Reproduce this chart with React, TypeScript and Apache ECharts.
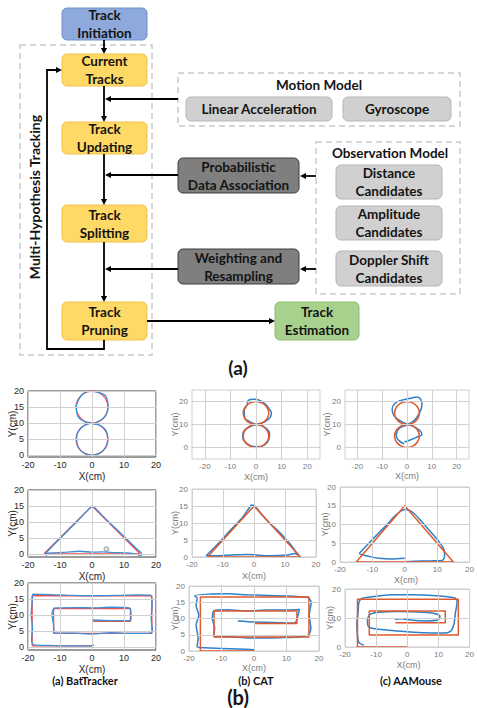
import React, { useEffect, useRef } from "react";
import * as echarts from "echarts";

// ---------- tick labels ----------
const xTicks = [-20, -10, 0, 10, 20];
const yTicks5 = [0, 5, 10, 15, 20];
const yTicks10 = [0, 10, 20];

// ---------- figure-eight traces ----------
const batFig8Red = [[0,10],[2.5,10.7],[4.3,12.5],[5,15],[4.3,17.5],[2.5,19.3],[0,20],[-2.5,19.3],[-4.3,17.5],[-5,15],[-4.3,12.5],[-2.5,10.7],[0,10],[2.5,9.3],[4.3,7.5],[5,5],[4.3,2.5],[2.5,0.7],[0,0],[-2.5,0.7],[-4.3,2.5],[-5,5],[-4.3,7.5],[-2.5,9.3],[0,10]];
const batFig8Blue = [[0,9.8],[2.6,10.9],[4.5,12.8],[5,15.2],[4.6,17.8],[2.3,19.5],[-0.3,19.9],[-2.8,19.1],[-4.2,17.2],[-4.9,14.8],[-4.5,12.3],[-2.3,10.5],[0,9.9],[2.7,9.2],[4.6,7.2],[4.9,4.8],[4.1,2.3],[2.2,0.6],[-0.2,0.1],[-2.7,0.8],[-4.4,2.8],[-4.8,5.2],[-4,7.8],[-2.2,9.4],[0,10]];
const catFig8Red = [[0,10],[2.5,10.7],[4.3,12.5],[5,15],[4.3,17.5],[2.5,19.3],[0,20],[-2.5,19.3],[-4.3,17.5],[-5,15],[-4.3,12.5],[-2.5,10.7],[0,10],[2.5,9.3],[4.3,7.5],[5,5],[4.3,2.5],[2.5,0.7],[0,0],[-2.5,0.7],[-4.3,2.5],[-5,5],[-4.3,7.5],[-2.5,9.3],[0,10]];
const catFig8Blue = [[0,10],[-2.5,11.3],[-4.5,13.2],[-4.6,16],[-3.5,18.5],[-3,20.5],[-1,21],[1.5,20.5],[3.5,19],[5,17],[6,15],[5.5,13],[3,11],[0,10],[-3,8.6],[-5,6.5],[-5.2,4.3],[-3.8,2],[-1.5,0.6],[1,0.3],[3.5,1.3],[5,3.5],[5.3,6],[3.8,8.5],[1.5,9.8]];
const aamFig8Red = [[0,10],[2.5,10.7],[4.3,12.5],[5,15],[4.3,17.5],[2.5,19.3],[0,20],[-2.5,19.3],[-4.3,17.5],[-5,15],[-4.3,12.5],[-2.5,10.7],[0,10],[2.5,9.3],[4.3,7.5],[5,5],[4.3,2.5],[2.5,0.7],[0,0],[-2.5,0.7],[-4.3,2.5],[-5,5],[-4.3,7.5],[-2.5,9.3],[0,10]];
const aamFig8Blue = [[-1,2.4],[2,3.6],[4.5,4.8],[6,5.6],[5.5,7],[3.5,8.6],[1.5,9.6],[0,10.2],[-2.5,11.5],[-5,13.5],[-6,16.5],[-5,19],[-2,20.6],[1.5,21.4],[4,22],[5.5,21],[6,18.5],[5.2,15.5],[3.8,12.8],[2,11],[0,9.8],[-2.5,8.8],[-4,7],[-4.3,5],[-3.2,3],[-1.2,1.6]];

// ---------- triangle traces ----------
const batTriRed = [[-15,0],[0,15],[15,0],[-15,0]];
const batTriBlue = [[-14.5,0.2],[-10,4.8],[-5,9.8],[-1,14],[0.2,14.8],[3,12.2],[7,8.3],[11,4.5],[14,1.5],[15.5,0],[15.3,-0.5],[12,0.2],[7,0.4],[3,0.6],[0,0.5],[-4,0.8],[-8,0.5],[-12,0.3],[-14.5,0.1],[-14.2,-0.6]];
const batTriMarker = [[4.5,1.5]];
const catTriRed = [[-15,0],[0,15],[15,0],[-15,0]];
const catTriBlue = [[-15.5,0.3],[-12,3.5],[-8,7.5],[-4,11.3],[-1.5,14.5],[-0.8,15.3],[0.5,14.8],[2.5,12.5],[5,10],[8,7.5],[10,5.5],[12,3.5],[13.5,1.5],[14.5,0.5],[13,1],[11,0.6],[5,0.4],[-2,0.7],[-7,0.6],[-12,0.4],[-15.2,0.4]];
const aamTriRed = [[-15,0],[0,15],[15,0],[-15,0]];
const aamTriBlue = [[0,1],[-4,0.8],[-8,1],[-11,1.5],[-14,2.3],[-13.5,2.8],[-10,6],[-6,9.5],[-3,12.3],[-1,13.7],[0.5,14],[2.5,13.2],[5,11],[8,8],[10.5,5.5],[12,3.5],[12.3,1.5],[11.5,0.4],[8,0.3],[3,0.2],[0,0.1]];

// ---------- rectangular spiral traces ----------
const batRectRed = [[0,0.3],[-18.7,0.3],[-18.7,16],[18.7,16],[18.7,4.2],[-12,4.2],[-12,12],[12,12],[12,8],[0,8]];
const batRectBlue = [[0.5,0.8],[0.3,0.4],[-5,0.3],[-12,0.4],[-18.2,0.6],[-18.9,2],[-18.6,6],[-19,10],[-18.7,14],[-18.5,16.5],[-15,16.4],[-8,16.2],[0,16],[8,16.1],[14,16.3],[18.3,16.2],[18.8,13],[18.5,9],[18.9,5],[18.3,4.3],[12,4.2],[6,4.4],[0,4],[-6,4.3],[-11.8,4.3],[-12,7],[-12.5,10],[-11.8,12.1],[-5,12.3],[0,12.2],[6,12.4],[11.8,12.1],[12.2,10],[12.1,8.3],[6,8.2],[0,8.4]];
const catRectRed = [[0,0],[-16.5,0],[-16.5,16.6],[16.9,16.6],[16.9,4.3],[-12.3,4.3],[-12.3,12.3],[13.2,12.3],[13.2,8.5],[0,8.5]];
const catRectBlue = [[0,0.4],[-5,0.6],[-10,0.8],[-15,1],[-17.5,1.3],[-17.2,4],[-17.8,8],[-17,11],[-17.8,14],[-17.5,16.3],[-18.3,17],[-14,17.5],[-8,17.6],[-2,17.3],[4,17.1],[10,16.9],[14,16.7],[16.5,16.5],[17.6,15],[17,11],[17.5,7],[16.8,5],[14,4.3],[8,4.1],[0,4],[-8,4.4],[-12.5,4.6],[-12.1,7],[-12.8,10],[-12.3,12.4],[-8,12.7],[-2,12.3],[4,12.6],[10,12.6],[14,12.8],[13.4,10.5],[12.5,8.6],[6,8.8],[0,8.9],[-5,9.2]];
const aamRectRed = [[0,0],[-16,0],[-16,16.5],[16.4,16.5],[16.4,4.1],[-12.2,4.1],[-12.2,12.4],[12.2,12.4],[12.2,8.4],[-3.8,8.4]];
const aamRectBlue = [[-14,0.6],[-15.5,1.5],[-16,4],[-16.2,8],[-15.8,12],[-15.5,15.5],[-14.5,16.8],[-10,17.5],[-4,18],[2,18],[8,17.8],[13,17.3],[15.5,16.8],[16,15.5],[15.5,12],[15,8],[14,5.5],[12,4.8],[6,4.9],[0,5.3],[-6,5.8],[-11,6.4],[-12.6,7.3],[-12.8,9.5],[-11.8,11.3],[-9,12],[-3,12.2],[3,12.1],[8,11.7],[10.5,10.6],[10,9.4],[6,9],[1,9.3],[-2,9.7],[-4,9.6]];

// ---------- captions ----------
const methodCaptions = ["(a) BatTracker", "(b) CAT", "(c) AAMouse"];

type Panel = {
  left: number; top: number; width: number; height: number;
  xMin: number; xMax: number; yMin: number; yMax: number;
  yTicks: number[]; bat: boolean; red: number[][]; blue: number[][];
  yNameX: number; xNameY: number; smooth: number;
};

const panels: Panel[] = [
  { left: 28, top: 391, width: 128, height: 66, xMin: -20, xMax: 20, yMin: -0.5, yMax: 20, yTicks: yTicks5, bat: true, red: batFig8Red, blue: batFig8Blue, yNameX: 12, xNameY: 476, smooth: 0.5 },
  { left: 192, top: 390, width: 128, height: 69, xMin: -25, xMax: 25, yMin: -5, yMax: 25, yTicks: yTicks10, bat: false, red: catFig8Red, blue: catFig8Blue, yNameX: 175, xNameY: 477, smooth: 0.5 },
  { left: 345, top: 390, width: 124, height: 69, xMin: -25, xMax: 25, yMin: -5, yMax: 25, yTicks: yTicks10, bat: false, red: aamFig8Red, blue: aamFig8Blue, yNameX: 327, xNameY: 476, smooth: 0.5 },
  { left: 28, top: 490, width: 128, height: 67, xMin: -20, xMax: 20, yMin: -1, yMax: 20, yTicks: yTicks5, bat: true, red: batTriRed, blue: batTriBlue, yNameX: 12, xNameY: 576, smooth: 0 },
  { left: 192, top: 489, width: 124, height: 68, xMin: -20, xMax: 20, yMin: 0, yMax: 20, yTicks: yTicks5, bat: false, red: catTriRed, blue: catTriBlue, yNameX: 175, xNameY: 576, smooth: 0 },
  { left: 340, top: 487, width: 132, height: 75, xMin: -20, xMax: 20, yMin: 0, yMax: 20, yTicks: yTicks5, bat: false, red: aamTriRed, blue: aamTriBlue, yNameX: 325, xNameY: 580, smooth: 0 },
  { left: 28, top: 583, width: 128, height: 67, xMin: -20, xMax: 20, yMin: -1, yMax: 20, yTicks: yTicks5, bat: true, red: batRectRed, blue: batRectBlue, yNameX: 12, xNameY: 669, smooth: 0 },
  { left: 189, top: 586, width: 130, height: 65, xMin: -20, xMax: 20, yMin: 0, yMax: 20, yTicks: yTicks5, bat: false, red: catRectRed, blue: catRectBlue, yNameX: 175, xNameY: 668, smooth: 0 },
  { left: 345, top: 589, width: 127, height: 58, xMin: -20, xMax: 20, yMin: 0, yMax: 20, yTicks: yTicks10, bat: false, red: aamRectRed, blue: aamRectBlue, yNameX: 330, xNameY: 665, smooth: 0 },
];

const FONT = "Lato, 'Open Sans', sans-serif";
const AXFONT = "'Liberation Sans', Arial, sans-serif";

function box(x: number, y: number, w: number, h: number, fill: string, stroke: string, text: string, color = "#141414", size = 13.5): any[] {
  return [
    { type: "rect", shape: { x, y, width: w, height: h, r: 5 }, style: { fill, stroke, lineWidth: 1 }, z: 2 },
    {
      type: "text", x: x + w / 2, y: y + h / 2, z: 3,
      style: { text, fill: color, font: `bold ${size}px ${FONT}`, textAlign: "center", textVerticalAlign: "middle", align: "center", verticalAlign: "middle", lineHeight: 18 },
    },
  ];
}

function dashed(x: number, y: number, w: number, h: number): any {
  return { type: "rect", shape: { x, y, width: w, height: h }, style: { fill: "none", stroke: "#c9c9c9", lineWidth: 1.5, lineDash: [6, 4] }, z: 1 };
}

function arrow(x1: number, y1: number, x2: number, y2: number): any[] {
  const dx = x2 - x1, dy = y2 - y1;
  const len = Math.hypot(dx, dy);
  const ux = dx / len, uy = dy / len;
  const hl = 6, hw = 3;
  const bx = x2 - ux * hl, by = y2 - uy * hl;
  return [
    { type: "line", shape: { x1, y1, x2: bx, y2: by }, style: { stroke: "#000", lineWidth: 1.8 }, z: 4 },
    { type: "polygon", shape: { points: [[x2, y2], [bx - uy * hw, by + ux * hw], [bx + uy * hw, by - ux * hw]] }, style: { fill: "#000" }, z: 4 },
  ];
}

function label(text: string, x: number, y: number, size: number, extra: any = {}): any {
  return {
    type: "text", x, y, z: 3, ...extra,
    style: { text, fill: "#141414", font: `bold ${size}px ${FONT}`, textAlign: "center", textVerticalAlign: "middle", align: "center", verticalAlign: "middle" },
  };
}

function axisName(text: string, x: number, y: number, size: number, color: string, rotate: boolean): any {
  return {
    type: "text", x, y, z: 3, rotation: rotate ? Math.PI / 2 : 0,
    style: { text, fill: color, font: `${size}px ${AXFONT}`, textAlign: "center", textVerticalAlign: "middle", align: "center", verticalAlign: "middle" },
  };
}

export default function App() {
  const ref = useRef<HTMLDivElement>(null);
  useEffect(() => {
    if (!ref.current) return;
    const chart = echarts.init(ref.current, undefined, { renderer: "svg" });

    const yellow = "#FFD966", yellowB = "#F2C04A";
    const gray = "#D0D0D0", grayB = "#B5B5B5";
    const dark = "#7F7F7F", darkB = "#3F3F3F";

    const graphics: any[] = [
      dashed(20, 45, 132, 310),
      dashed(178, 73, 282, 53),
      dashed(316, 142, 144, 152),
      ...box(62, 8, 85, 32, "#8EA9DB", "#7090CC", "Track\nInitiation"),
      ...box(62, 54, 85, 32, yellow, yellowB, "Current\nTracks"),
      ...box(62, 122, 85, 32, yellow, yellowB, "Track\nUpdating"),
      ...box(62, 205, 85, 37, yellow, yellowB, "Track\nSplitting"),
      ...box(62, 302, 85, 38, yellow, yellowB, "Track\nPruning"),
      ...box(275, 302, 84, 38, "#A9D18E", "#8DBB6D", "Track\nEstimation"),
      ...box(186, 97, 146, 24, gray, grayB, "Linear Acceleration"),
      ...box(343, 97, 108, 24, gray, grayB, "Gyroscope"),
      ...box(336, 165, 106, 34, gray, grayB, "Distance\nCandidates"),
      ...box(336, 206, 106, 34, gray, grayB, "Amplitude\nCandidates"),
      ...box(336, 251, 106, 35, gray, grayB, "Doppler Shift\nCandidates"),
      ...box(178, 158, 121, 35, dark, darkB, "Probabilistic\nData Association"),
      ...box(178, 249, 121, 35, dark, darkB, "Weighting and\nResampling"),
      label("Motion Model", 319, 85, 13.5),
      label("Observation Model", 390, 153, 13.5),
      label("Multi-Hypothesis Tracking", 34, 197, 14, { rotation: Math.PI / 2 }),
      label("(a)", 238, 367, 19),
      ...arrow(104, 40, 104, 54),
      ...arrow(104, 86, 104, 122),
      ...arrow(104, 154, 104, 205),
      ...arrow(104, 242, 104, 302),
      ...arrow(178, 99, 105, 99),
      ...arrow(178, 175, 105, 175),
      ...arrow(178, 269, 105, 269),
      ...arrow(316, 176, 300, 176),
      ...arrow(316, 269, 300, 269),
      ...arrow(147, 321, 275, 321),
      { type: "polyline", shape: { points: [[104, 340], [104, 349], [47, 349], [47, 70], [57, 70]] }, style: { stroke: "#000", lineWidth: 1.8, fill: "none" }, z: 4 },
      ...arrow(55, 70, 62, 70),
      label(methodCaptions[0], 85, 680, 11),
      label(methodCaptions[1], 256, 680, 11),
      label(methodCaptions[2], 411, 680, 11),
      label("(b)", 238, 697, 20),
    ];

    const grid: any[] = [];
    const xAxis: any[] = [];
    const yAxis: any[] = [];
    const series: any[] = [];

    panels.forEach((p, i) => {
      const labelColor = p.bat ? "#262626" : "#7a7a7a";
      const fs = p.bat ? 9 : 8;
      const nfs = p.bat ? 10 : 9;
      graphics.push(axisName("X(cm)", p.left + p.width / 2, p.xNameY, nfs, labelColor, false));
      graphics.push(axisName("Y(cm)", p.yNameX, p.top + p.height / 2, nfs, labelColor, true));
      grid.push({ left: p.left, top: p.top, width: p.width, height: p.height, show: true, borderColor: p.bat ? "#3a3a3a" : "#cfcfcf", borderWidth: 1, backgroundColor: "transparent" });
      const common = {
        gridIndex: i, type: "value",
        axisLine: { show: false, onZero: false },
        axisTick: { show: false },
        splitLine: { show: false },
      };
      xAxis.push({
        ...common, min: p.xMin, max: p.xMax,
        axisLabel: { customValues: xTicks, fontSize: fs, color: labelColor, margin: 3, fontFamily: AXFONT },
      });
      yAxis.push({
        ...common, min: p.yMin, max: p.yMax,
        axisLabel: { customValues: p.yTicks, fontSize: fs, color: labelColor, margin: 4, fontFamily: AXFONT },
      });
      const gridLines = {
        silent: true, symbol: "none",
        label: { show: false },
        lineStyle: { color: "#d0d0d0", width: 1, type: "solid" },
        data: [...xTicks.map((v) => ({ xAxis: v })), ...p.yTicks.map((v) => ({ yAxis: v }))],
      };
      const redS: any = { type: "line", name: "truth", xAxisIndex: i, yAxisIndex: i, data: p.red, showSymbol: false, smooth: p.smooth, lineStyle: { color: p.bat ? "#FF4A4A" : "#E2572C", width: p.bat ? 1.3 : 1.5 } };
      const blueS: any = { type: "line", name: "track", xAxisIndex: i, yAxisIndex: i, data: p.blue, showSymbol: false, smooth: p.smooth === 0 ? 0.25 : p.smooth, lineStyle: { color: p.bat ? "#3B8FD9" : "#2F80C8", width: p.bat ? 1.3 : 1.5 } };
      if (p.bat) { redS.markLine = gridLines; series.push(redS, blueS); }
      else { blueS.markLine = gridLines; series.push(blueS, redS); }
    });

    series.push({ type: "scatter", name: "marker", xAxisIndex: 3, yAxisIndex: 3, data: batTriMarker, symbol: "emptyCircle", symbolSize: 4, itemStyle: { color: "#aaa", borderColor: "#aaa" } });

    chart.setOption({
      animation: false,
      backgroundColor: "#fff",
      grid, xAxis, yAxis, series,
      graphic: { elements: graphics },
    });
    return () => chart.dispose();
  }, []);
  return <div ref={ref} style={{ position: "absolute", left: 0, top: 0, width: 477, height: 708 }} />;
}
